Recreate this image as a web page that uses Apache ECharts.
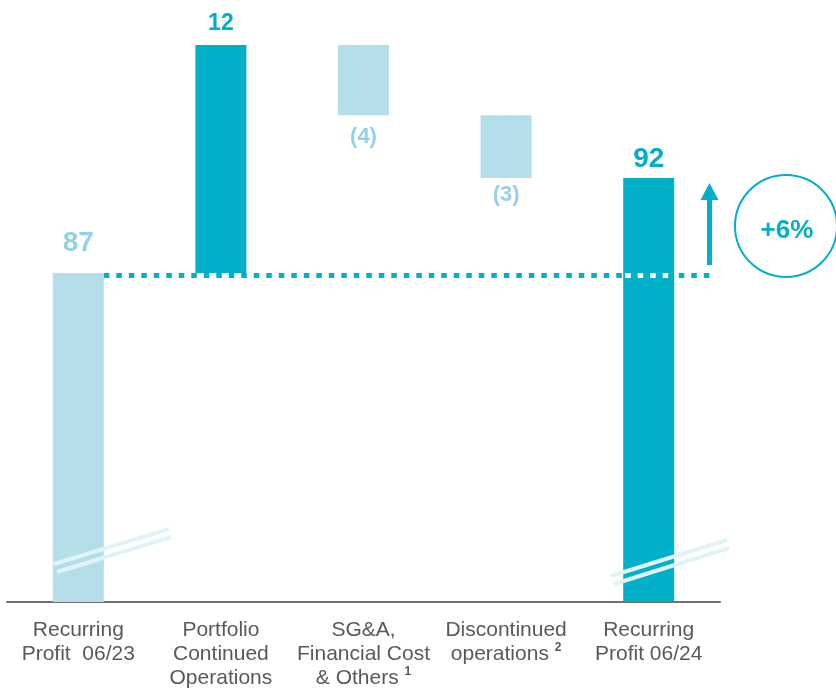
<!DOCTYPE html>
<html>
<head>
<meta charset="utf-8">
<script src="https://cdn.jsdelivr.net/npm/echarts@6/dist/echarts.min.js"></script>
<style>
  html, body { margin: 0; padding: 0; background: #fff; }
  #main { width: 836px; height: 690px; }
</style>
</head>
<body>
<div id="main"></div>
<script>
// categories along the x axis
var categories = [
  'Recurring\nProfit  06/23',
  'Portfolio\nContinued\nOperations',
  'SG&A,\nFinancial Cost\n& Others 1',
  'Discontinued\noperations 2',
  'Recurring\nProfit 06/24'
];
// start / end totals and the steps in between
var startTotal = 87;
var steps = [12, -3.7, -3.3];
var endTotal = 92;
var valueLabels = ['87', '12', '(4)', '(3)', '92'];
var growthText = '+6%';

var dark = '#00afc8';
var light = '#b3deea';
var lightText = '#92d2e2';

// build the waterfall: transparent base + visible part
var base = [0];
var shown = [startTotal];
var running = startTotal;
for (var i = 0; i < steps.length; i++) {
  var next = running + steps[i];
  base.push(Math.min(running, next));
  shown.push(Math.abs(steps[i]));
  running = next;
}
base.push(0);
shown.push(endTotal);

var barColors = [light, dark, light, light, dark];
var labelColors = [lightText, dark, lightText, lightText, dark];
var labelPos = ['top', 'top', 'bottom', 'bottom', 'top'];
var labelDist = [16, 10, 11, 6, 5];
var labelSize = [28, 23, 22, 22, 28];

var shownData = shown.map(function (v, i) {
  return {
    value: v,
    itemStyle: { color: barColors[i] },
    label: {
      show: true,
      position: labelPos[i],
      distance: labelDist[i],
      formatter: valueLabels[i],
      color: labelColors[i],
      fontSize: labelSize[i],
      fontWeight: 'bold',
      fontFamily: 'Liberation Sans'
    }
  };
});

var myChart = echarts.init(document.getElementById('main'));
var option = {
  animation: false,
  grid: { left: 7, right: 116, top: 45, bottom: 86 },
  xAxis: {
    type: 'category',
    data: categories,
    axisLine: { lineStyle: { color: '#6f6f6f', width: 2 } },
    axisTick: { show: false },
    axisLabel: {
      margin: 16,
      interval: 0,
      color: '#595959',
      fontSize: 21,
      lineHeight: 24,
      fontFamily: 'Liberation Sans',
      formatter: function (v) {
        // trailing footnote number -> superscript
        return v.replace(/ ([12])$/, ' {sup|$1}');
      },
      rich: {
        sup: {
          fontSize: 12,
          fontWeight: 'bold',
          color: '#595959',
          fontFamily: 'Liberation Sans',
          verticalAlign: 'top',
          padding: [0, 0, 8, 0]
        }
      }
    }
  },
  yAxis: {
    type: 'value',
    min: 69.7,
    max: 99,
    show: false,
    splitLine: { show: false }
  },
  series: [
    {
      type: 'bar',
      stack: 'w',
      barWidth: 51,
      data: base,
      itemStyle: { color: 'transparent' },
      silent: true
    },
    {
      type: 'bar',
      stack: 'w',
      barWidth: 51,
      data: shownData
    }
  ]
};
myChart.setOption(option);

// decorations: dotted reference line, break marks, arrow, circle
var y87 = myChart.convertToPixel({ yAxisIndex: 0 }, startTotal) + 2.5;
var x0 = myChart.convertToPixel({ xAxisIndex: 0 }, 0);
var x4 = myChart.convertToPixel({ xAxisIndex: 0 }, 4);
var half = 25.5;
var breakColor = '#e2f3f8';

function breakMark(x1, y1, x2, y2) {
  return [
    { type: 'line', z: 20, shape: { x1: x1, y1: y1, x2: x2, y2: y2 }, style: { stroke: breakColor, lineWidth: 4 } },
    { type: 'line', z: 20, shape: { x1: x1 + 3, y1: y1 + 8, x2: x2 + 2, y2: y2 + 8 }, style: { stroke: breakColor, lineWidth: 4 } }
  ];
}

var g = [];
g.push({ type: 'line', z: 1, shape: { x1: x0 + half, y1: y87, x2: 712, y2: y87 },
  style: { stroke: dark, lineWidth: 5, lineDash: [5.5, 7] } });
g.push({ type: 'line', z: 20, shape: { x1: x4 - half + 2, y1: y87, x2: x4 + half, y2: y87 },
  style: { stroke: '#ffffff', lineWidth: 5, lineDash: [5.5, 7] } });
g = g.concat(breakMark(54, 564, 169, 529));
g = g.concat(breakMark(611, 576, 727, 540));
// arrow
g.push({ type: 'rect', z: 20, shape: { x: 707, y: 199, width: 5, height: 66 }, style: { fill: dark } });
g.push({ type: 'polygon', z: 20, shape: { points: [[700.5, 200], [718.5, 200], [709.5, 183]] }, style: { fill: dark } });
// circle with growth
g.push({ type: 'circle', z: 20, shape: { cx: 786, cy: 226, r: 51 }, style: { fill: '#fff', stroke: dark, lineWidth: 2 } });
g.push({ type: 'text', z: 21, x: 787, y: 231, style: {
  text: growthText, fill: dark, font: 'bold 26px "Liberation Sans"', align: 'center', verticalAlign: 'middle' } });

myChart.setOption({ graphic: g });
</script>
</body>
</html>
